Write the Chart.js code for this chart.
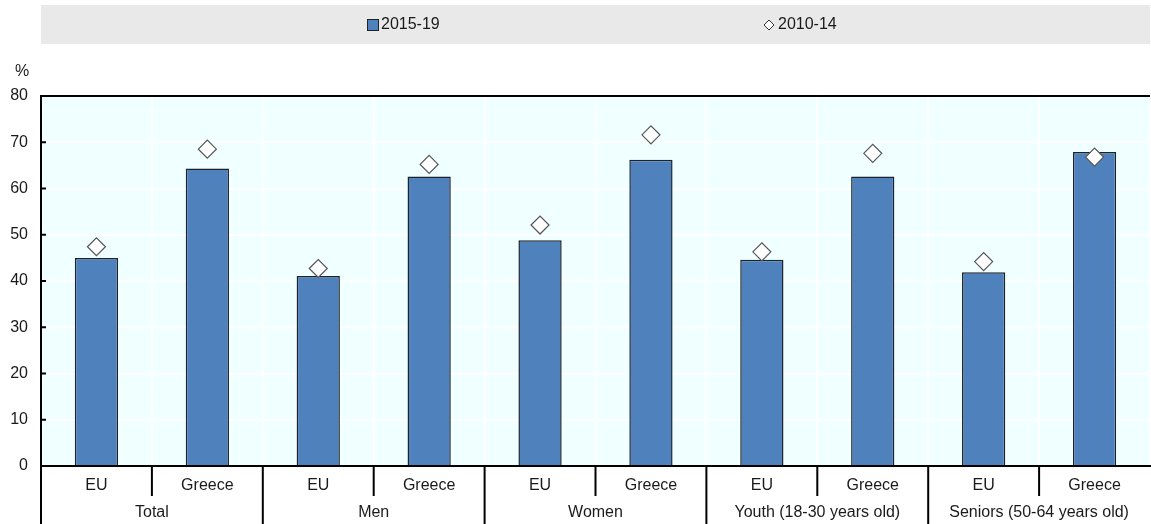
<!DOCTYPE html>
<html>
<head>
<meta charset="utf-8">
<script src="https://cdn.jsdelivr.net/npm/chart.js@4"></script>
<style>
  html, body { margin: 0; padding: 0; background: #fff; }
  #wrap { width: 1151px; height: 524px; }
</style>
</head>
<body>
<div id="wrap"><canvas id="chart"></canvas></div>
<script>
// ── Data ────────────────────────────────────────────
var groups    = ['Total', 'Men', 'Women', 'Youth (18-30 years old)', 'Seniors (50-64 years old)'];
var areas     = ['EU', 'Greece'];
var yTicks    = [0, 10, 20, 30, 40, 50, 60, 70, 80];
var seriesNew = '2015-19';
var seriesOld = '2010-14';
var values1519 = [45.0, 64.3, 41.1, 62.6, 48.8, 66.2, 44.6, 62.6, 41.9, 67.9];
var values1014 = [47.4, 68.5, 42.7, 65.2, 52.1, 71.6, 46.3, 67.6, 44.2, 66.8];

// one label per bar: EU / Greece repeated for each group
var labels = [];
groups.forEach(function () { areas.forEach(function (a) { labels.push(a); }); });

var FONT = 'Arial, "Liberation Sans", sans-serif';
var TEXT = '#1a1a1a';
var barBlue = '#4F81BD';

// no auto side padding on the horizontal axes
function noSidePad(s) { s.paddingLeft = 0; s.paddingRight = 0; }

// ── Extras: legend band, plot fill, % label, axis separators ──
var decor = {
    id: 'decor',
    beforeDraw: function (chart) {
        var ctx = chart.ctx, a = chart.chartArea;
        ctx.save();
        // plot background
        ctx.fillStyle = '#F0FFFF';
        ctx.fillRect(a.left, a.top, a.right - a.left, a.bottom - a.top);
        // legend band
        ctx.fillStyle = '#E9E9E9';
        ctx.fillRect(a.left, 5, a.right - a.left, 39);
        ctx.restore();
    },
    afterDraw: function (chart) {
        var ctx = chart.ctx, a = chart.chartArea;
        var x = chart.scales.x, y = chart.scales.y;
        ctx.save();
        ctx.font = '16px ' + FONT;
        ctx.fillStyle = TEXT;
        ctx.textBaseline = 'middle';

        // legend items
        ctx.fillStyle = barBlue;
        ctx.strokeStyle = '#222';
        ctx.lineWidth = 1;
        ctx.fillRect(367.5, 19.5, 11, 11);
        ctx.strokeRect(367.5, 19.5, 11, 11);
        ctx.fillStyle = TEXT;
        ctx.textAlign = 'left';
        ctx.fillText(seriesNew, 381, 25);

        ctx.beginPath();
        ctx.moveTo(769, 20); ctx.lineTo(774, 25); ctx.lineTo(769, 30); ctx.lineTo(764, 25); ctx.closePath();
        ctx.fillStyle = '#fff'; ctx.fill();
        ctx.strokeStyle = '#333'; ctx.stroke();
        ctx.fillStyle = TEXT;
        ctx.fillText(seriesOld, 778, 25);

        // unit
        ctx.textAlign = 'center';
        ctx.fillText('%', 22, 72);

        // top border
        ctx.strokeStyle = '#000';
        ctx.lineWidth = 2;
        ctx.beginPath();
        ctx.moveTo(a.left, a.top); ctx.lineTo(a.right, a.top);
        ctx.stroke();

        // inward y ticks
        ctx.beginPath();
        yTicks.forEach(function (v) {
            var py = y.getPixelForValue(v);
            ctx.moveTo(a.left, py); ctx.lineTo(a.left + 5, py);
        });
        ctx.stroke();

        // x separators: short between EU/Greece, full between groups
        var h = chart.height;
        ctx.beginPath();
        ctx.moveTo(a.left, a.bottom); ctx.lineTo(a.left, h);
        for (var i = 0; i < labels.length - 1; i++) {
            var px = (x.getPixelForValue(i) + x.getPixelForValue(i + 1)) / 2;
            var full = (i % areas.length) === areas.length - 1;
            ctx.moveTo(px, a.bottom);
            ctx.lineTo(px, full ? h : a.bottom + 30);
        }
        ctx.stroke();
        ctx.restore();
    }
};

new Chart(document.getElementById('chart'), {
    type: 'bar',
    data: {
        labels: labels,
        datasets: [
            {
                type: 'line',
                label: seriesOld,
                data: values1014,
                showLine: false,
                pointStyle: 'rectRot',
                pointRadius: 9,
                pointHoverRadius: 9,
                pointBackgroundColor: '#fff',
                pointBorderColor: '#555',
                pointBorderWidth: 1.2,
                order: 0
            },
            {
                label: seriesNew,
                data: values1519,
                backgroundColor: barBlue,
                borderColor: '#1c232c',
                borderWidth: 1.5,
                categoryPercentage: 1,
                barPercentage: 0.39,
                order: 1
            }
        ]
    },
    options: {
        responsive: true,
        maintainAspectRatio: false,
        animation: false,
        layout: { autoPadding: false, padding: { top: 96, right: 1, left: 0, bottom: 0 } },
        plugins: {
            legend: { display: false },
            tooltip: { enabled: false }
        },
        scales: {
            x: {
                offset: true,
                grid: { offset: true, color: '#fff', lineWidth: 2, drawTicks: false },
                border: { display: true, color: '#000', width: 2 },
                ticks: { color: TEXT, font: { family: FONT, size: 16 }, padding: 10, maxRotation: 0, autoSkip: false },
                afterFit: function (s) { s.height = 30; noSidePad(s); }
            },
            x2: {
                type: 'category',
                position: 'bottom',
                labels: groups,
                offset: true,
                grid: { display: false, drawTicks: false },
                border: { display: false },
                ticks: { color: TEXT, font: { family: FONT, size: 16 }, padding: 7, maxRotation: 0, autoSkip: false },
                afterFit: function (s) { s.height = 28; noSidePad(s); }
            },
            y: {
                min: 0,
                max: 80,
                afterBuildTicks: function (s) { s.ticks = yTicks.map(function (v) { return { value: v }; }); },
                grid: { color: '#fff', lineWidth: 2, drawTicks: false },
                border: { display: true, color: '#000', width: 2 },
                ticks: { color: TEXT, font: { family: FONT, size: 16 }, padding: 13 },
                afterFit: function (s) { s.width = 41; }
            }
        }
    },
    plugins: [decor]
});
</script>
</body>
</html>
